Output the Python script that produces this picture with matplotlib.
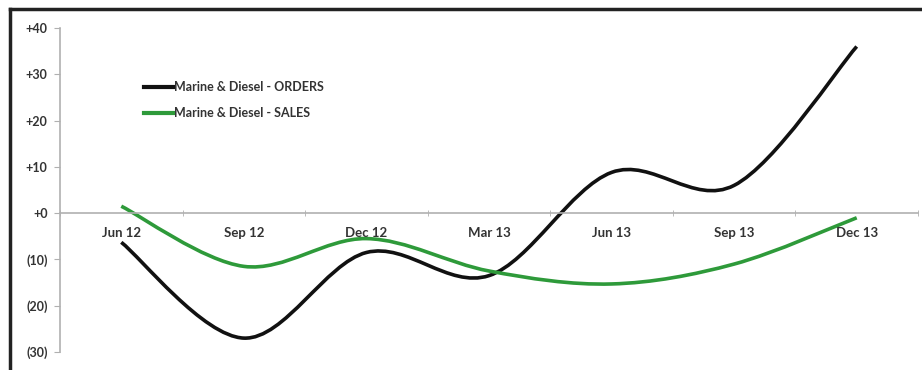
import matplotlib.pyplot as plt
import numpy as np
from matplotlib.path import Path
from matplotlib.patches import PathPatch
from matplotlib.lines import Line2D

quarters = ['Jun 12', 'Sep 12', 'Dec 12', 'Mar 13', 'Jun 13', 'Sep 13', 'Dec 13']
orders = [-6.3, -27, -8.5, -13.5, 8.8, 6, 36]
sales = [1.5, -11.5, -5.5, -12.5, -15.3, -11, -1]
yticks = [-30, -20, -10, 0, 10, 20, 30, 40]
ylabels = ['(30)', '(20)', '(10)', '+0', '+10', '+20', '+30', '+40']

plt.rcParams['font.family'] = ['Lato', 'DejaVu Sans']


def smooth_path(x, y):
    # bezier through the points, like excel's smoothed line
    pts = np.column_stack([x, y]).astype(float)
    n = len(pts)
    verts = [pts[0]]
    codes = [Path.MOVETO]
    for i in range(n - 1):
        p0 = pts[i - 1] if i > 0 else pts[i]
        p1 = pts[i]
        p2 = pts[i + 1]
        p3 = pts[i + 2] if i + 2 < n else pts[i + 1]
        c1 = p1 + (p2 - p0) / 6
        c2 = p2 - (p3 - p1) / 6
        verts += [c1, c2, p2]
        codes += [Path.CURVE4] * 3
    return Path(verts, codes)


fig = plt.figure(figsize=(9.22, 3.7), dpi=100)
ax = fig.add_axes([60 / 922, 1 - 352 / 370, 858 / 922, 324 / 370])

xpos = np.arange(len(quarters))
for vals, col in [(orders, '#111111'), (sales, '#2e9a3a')]:
    ax.add_patch(PathPatch(smooth_path(xpos, vals), facecolor='none',
                           edgecolor=col, lw=2.6, capstyle='butt'))

ax.set_xlim(-0.5, len(quarters) - 0.5)
ax.set_ylim(-30, 40)

ax.spines['top'].set_visible(False)
ax.spines['right'].set_visible(False)
ax.spines['bottom'].set_position(('data', 0))
ax.spines['bottom'].set_color('#b0b0b0')
ax.spines['left'].set_color('#b0b0b0')
ax.spines['bottom'].set_linewidth(1.2)
ax.spines['left'].set_linewidth(1.2)

ax.set_yticks(yticks)
ax.set_yticklabels(ylabels, fontsize=9, fontweight='bold', color='#333333')
ax.tick_params(axis='y', length=4, color='#b0b0b0', pad=5)

ax.set_xticks(xpos)
ax.set_xticklabels(quarters, fontsize=9.5, fontweight='bold', color='#333333')
ax.set_xticks(np.arange(len(quarters) + 1) - 0.5, minor=True)
ax.tick_params(axis='x', which='major', length=0, pad=10)
ax.tick_params(axis='x', which='minor', length=4, color='#b0b0b0', direction='inout')

handles = [Line2D([], [], color='#111111', lw=3),
           Line2D([], [], color='#2e9a3a', lw=3)]
ax.legend(handles, ['Marine & Diesel - ORDERS', 'Marine & Diesel - SALES'],
          loc='upper left', bbox_to_anchor=(0.085, 0.87), frameon=False,
          prop={'size': 9, 'weight': 'bold'}, handlelength=2.4,
          handletextpad=0.0, labelspacing=1.1, labelcolor='#333333')

# dark frame round the picture
fig.add_artist(Line2D([10 / 922, 10 / 922], [0, 1 - 9 / 370], color='#222222', lw=2.5))
fig.add_artist(Line2D([10 / 922, 1], [1 - 9 / 370, 1 - 9 / 370], color='#222222', lw=2.5))

fig.savefig('out.png', dpi=100)
